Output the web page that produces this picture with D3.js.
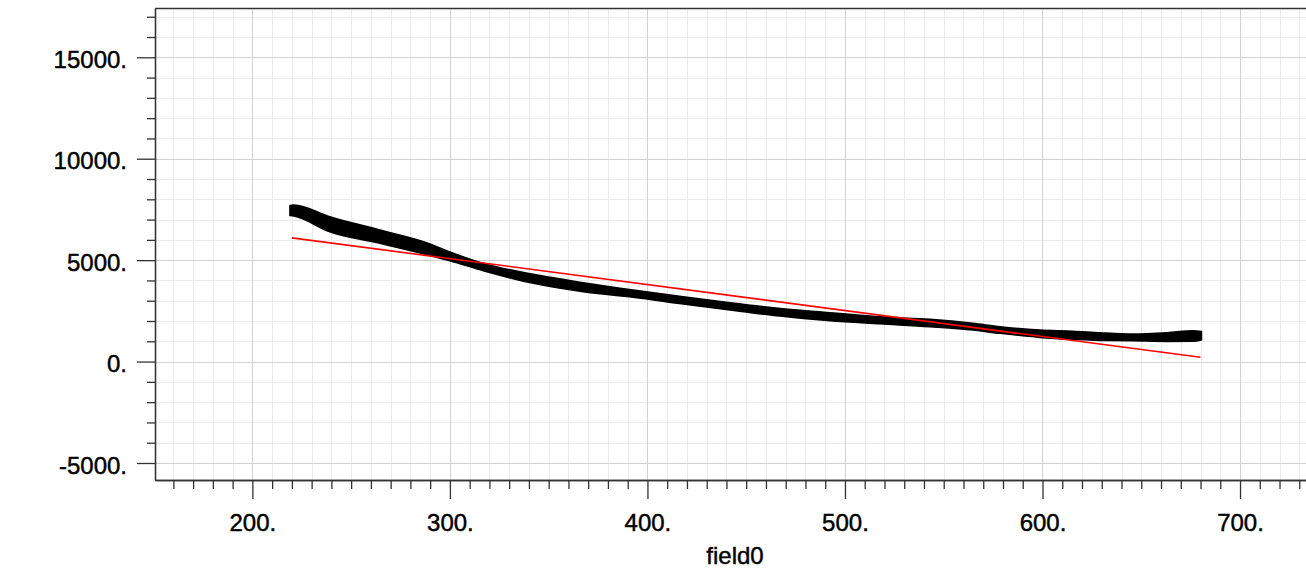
<!DOCTYPE html>
<html>
<head>
  <meta charset='utf-8'>
  <title>field0</title>
  <script src="https://cdnjs.cloudflare.com/ajax/libs/d3/7.8.5/d3.min.js"></script>
  <style>
    html, body {
      margin: 0;
      padding: 0;
      background: #fff;
    }
    svg {
      display: block;
      font-family: 'Liberation Sans', Arial, sans-serif;
    }
    .tick text {
      font-size: 24px;
      fill: #000;
      stroke: #000;
      stroke-width: 0.45px;
    }
  </style>
</head>
<body>
  <svg id="chart"></svg>
  <script>
    // band of points: x, lower edge, upper edge
    const bandX    = [219, 221, 239.2, 264.6, 289.9, 300, 316.9, 342.2, 367.5, 392.8, 418.1, 441.8, 467.1, 492.4, 517.7, 543, 564.8, 578.5, 598.7, 615.4, 629.1, 645.8, 663, 676.2, 680.5];
    const bandLow  = [7200, 7173, 6400, 5828, 5230, 4970, 4477, 3856, 3442, 3166, 2835, 2540, 2244, 2012, 1860, 1716, 1553, 1391, 1193, 1095, 1040, 1026, 990, 1000, 1060];
    const bandHigh = [7700, 7717, 7140, 6484, 5800, 5400, 4842, 4300, 3886, 3525, 3195, 2900, 2623, 2406, 2209, 2081, 1884, 1716, 1553, 1500, 1420, 1356, 1420, 1520, 1480];

    // fitted line
    const fitX = [220, 680];
    const fitY = [6100, 210];

    const xMajor = [200, 300, 400, 500, 600, 700];
    const yMajor = [-5000, 0, 5000, 10000, 15000];

    const width = 1306;
    const height = 569;
    const mLeft = 155, mRight = 1306, mTop = 8, mBottom = 480;

    const svg = d3.select('#chart')
      .attr('width', width)
      .attr('height', height);

    const x = d3.scaleLinear().domain([150.7, 733.4]).range([mLeft, mRight]);
    const y = d3.scaleLinear().domain([-5838, 17431]).range([mBottom, mTop]);

    const xMinor = d3.range(160, 734, 10).filter(v => v % 100 !== 0);
    const yMinor = d3.range(-5000, 17001, 1000).filter(v => v % 5000 !== 0);

    //grid, light lines first then the darker ones
    const grid = svg.append('g');
    grid.selectAll('line.xm').data(xMinor).join('line')
      .attr('x1', d => Math.round(x(d)) + 0.5).attr('x2', d => Math.round(x(d)) + 0.5)
      .attr('y1', mTop).attr('y2', mBottom)
      .attr('stroke', '#ebebeb');
    grid.selectAll('line.ym').data(yMinor).join('line')
      .attr('y1', d => Math.round(y(d)) + 0.5).attr('y2', d => Math.round(y(d)) + 0.5)
      .attr('x1', mLeft).attr('x2', mRight)
      .attr('stroke', '#ebebeb');
    grid.selectAll('line.xM').data(xMajor).join('line')
      .attr('x1', d => Math.round(x(d)) + 0.5).attr('x2', d => Math.round(x(d)) + 0.5)
      .attr('y1', mTop).attr('y2', mBottom)
      .attr('stroke', '#d2d2d2');
    grid.selectAll('line.yM').data(yMajor).join('line')
      .attr('y1', d => Math.round(y(d)) + 0.5).attr('y2', d => Math.round(y(d)) + 0.5)
      .attr('x1', mLeft).attr('x2', mRight)
      .attr('stroke', '#d2d2d2');

    // data band
    const band = bandX.map((v, i) => ({ x: v, lo: bandLow[i], hi: bandHigh[i] }));
    svg.append('path')
      .datum(band)
      .attr('fill', '#000')
      .attr('stroke', '#000')
      .attr('stroke-width', 1.5)
      .attr('stroke-linejoin', 'round')
      .attr('d', d3.area()
        .x(d => x(d.x))
        .y0(d => y(d.lo))
        .y1(d => y(d.hi))
        .curve(d3.curveMonotoneX));

    // fit line
    svg.append('path')
      .datum(fitX.map((v, i) => [v, fitY[i]]))
      .attr('fill', 'none')
      .attr('stroke', '#ff0000')
      .attr('stroke-width', 1.6)
      .attr('d', d3.line().x(d => x(d[0])).y(d => y(d[1])));

    // axes
    const fmt = d => d + '.';

    const xAxis = svg.append('g')
      .attr('transform', `translate(0,${mBottom})`);
    xAxis.append('g').call(d3.axisBottom(x).tickValues(xMinor).tickSize(9).tickFormat('').tickSizeOuter(0));
    xAxis.append('g').call(d3.axisBottom(x).tickValues(xMajor).tickSize(19).tickPadding(15).tickFormat(fmt).tickSizeOuter(0));

    const yAxis = svg.append('g')
      .attr('transform', `translate(${mLeft},0)`);
    yAxis.append('g').call(d3.axisLeft(y).tickValues(yMinor).tickSize(8).tickFormat('').tickSizeOuter(0));
    yAxis.append('g').call(d3.axisLeft(y).tickValues(yMajor).tickSize(18).tickPadding(10).tickFormat(fmt).tickSizeOuter(0));
    yAxis.selectAll('.tick text').attr('dy', '0.42em');

    svg.selectAll('.domain').attr('stroke', '#333').attr('stroke-width', 1.3);
    svg.selectAll('.tick line').attr('stroke', '#333').attr('stroke-width', 1.3);
    svg.selectAll('.tick text').attr('font-family', "'Liberation Sans', Arial, sans-serif");

    // top border
    svg.append('line')
      .attr('x1', mLeft).attr('x2', mRight)
      .attr('y1', mTop + 0.5).attr('y2', mTop + 0.5)
      .attr('stroke', '#333').attr('stroke-width', 1.3);

    svg.append('text')
      .attr('x', 735)
      .attr('y', 564)
      .attr('text-anchor', 'middle')
      .attr('font-size', 24)
      .attr('fill', '#000')
      .attr('stroke', '#000')
      .attr('stroke-width', 0.45)
      .text('field0');
  </script>
</body>
</html>
